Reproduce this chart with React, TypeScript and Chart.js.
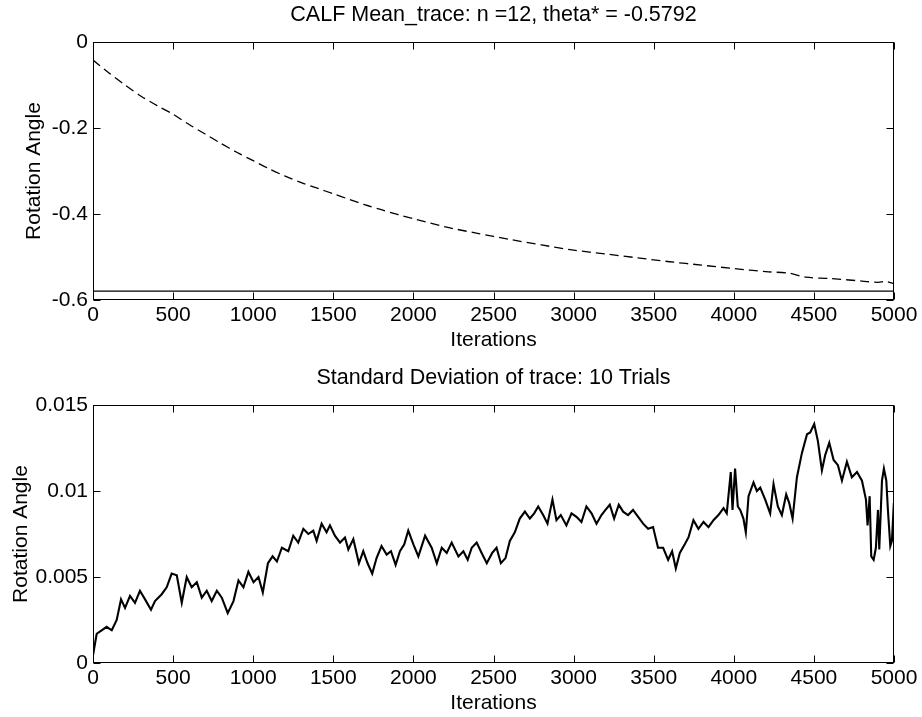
import React, { useEffect, useRef } from "react";
import { Chart, registerables } from "chart.js";

Chart.register(...registerables);

const FONT = "'Liberation Sans', Arial, Helvetica, sans-serif";

// ---------- Top panel: mean trace ----------
const meanTitle = "CALF Mean_trace: n =12, theta* = -0.5792";
const thetaStar = -0.5792;
const meanIter = [0, 100, 200, 300, 400, 500, 600, 700, 800, 900, 1000, 1100, 1200, 1300, 1400, 1500, 1600, 1700, 1800, 1900, 2000, 2200, 2400, 2600, 2800, 3000, 3200, 3400, 3600, 3800, 4000, 4200, 4350, 4450, 4600, 4800, 4900, 4950, 5000];
const meanValue = [-0.042, -0.072, -0.1, -0.126, -0.148, -0.168, -0.192, -0.214, -0.236, -0.257, -0.276, -0.295, -0.312, -0.327, -0.34, -0.353, -0.366, -0.379, -0.39, -0.401, -0.411, -0.43, -0.445, -0.459, -0.472, -0.484, -0.493, -0.502, -0.511, -0.519, -0.527, -0.534, -0.538, -0.547, -0.55, -0.556, -0.559, -0.557, -0.562];

// ---------- Bottom panel: standard deviation ----------
const sdTitle = "Standard Deviation of trace: 10 Trials";
const sdIter = [0, 23, 54, 85, 117, 148, 175, 200, 231, 262, 293, 325, 362, 387, 429, 460, 491, 523, 554, 585, 616, 648, 679, 710, 741, 773, 804, 841, 877, 908, 939, 970, 1002, 1033, 1060, 1092, 1121, 1148, 1179, 1219, 1250, 1281, 1313, 1344, 1375, 1396, 1427, 1458, 1479, 1510, 1542, 1573, 1594, 1625, 1660, 1687, 1714, 1743, 1770, 1801, 1833, 1860, 1889, 1916, 1943, 1968, 2000, 2031, 2073, 2114, 2146, 2177, 2208, 2239, 2281, 2312, 2339, 2364, 2395, 2426, 2458, 2492, 2519, 2546, 2575, 2602, 2633, 2664, 2696, 2727, 2754, 2779, 2810, 2837, 2868, 2893, 2920, 2955, 2987, 3018, 3049, 3080, 3112, 3143, 3174, 3199, 3226, 3253, 3282, 3309, 3340, 3371, 3403, 3434, 3465, 3496, 3527, 3559, 3590, 3615, 3638, 3663, 3694, 3717, 3748, 3779, 3811, 3842, 3873, 3904, 3936, 3956, 3981, 3992, 4008, 4025, 4040, 4060, 4075, 4092, 4123, 4144, 4165, 4196, 4227, 4248, 4275, 4300, 4327, 4346, 4367, 4394, 4425, 4457, 4477, 4502, 4525, 4550, 4571, 4596, 4623, 4650, 4675, 4706, 4737, 4769, 4800, 4825, 4835, 4848, 4858, 4873, 4887, 4900, 4908, 4925, 4937, 4952, 4962, 4977, 4987, 4999];
const sdValue = [0.00045, 0.0017, 0.0019, 0.0021, 0.0019, 0.0025, 0.0037, 0.0032, 0.0039, 0.0035, 0.0042, 0.0037, 0.0031, 0.0036, 0.004, 0.0044, 0.0052, 0.0051, 0.0035, 0.005, 0.0044, 0.0047, 0.0038, 0.0042, 0.0036, 0.0042, 0.0038, 0.0029, 0.0036, 0.0048, 0.0044, 0.0053, 0.0047, 0.005, 0.0041, 0.0058, 0.0062, 0.0059, 0.0067, 0.0065, 0.0074, 0.007, 0.0078, 0.0075, 0.0077, 0.0071, 0.0081, 0.0076, 0.008, 0.0074, 0.007, 0.0073, 0.0066, 0.0072, 0.0058, 0.0065, 0.0058, 0.0052, 0.0061, 0.0068, 0.0063, 0.0065, 0.0057, 0.0065, 0.0069, 0.0077, 0.0069, 0.0062, 0.0074, 0.0067, 0.0058, 0.0067, 0.0064, 0.007, 0.0062, 0.0065, 0.006, 0.0067, 0.007, 0.0064, 0.0058, 0.0064, 0.0067, 0.0058, 0.0061, 0.0071, 0.0076, 0.0084, 0.0088, 0.0084, 0.0087, 0.0091, 0.0086, 0.0081, 0.0095, 0.0083, 0.0086, 0.008, 0.0087, 0.0085, 0.0082, 0.0091, 0.0087, 0.0081, 0.0086, 0.0089, 0.0092, 0.0084, 0.0092, 0.0088, 0.0086, 0.0089, 0.0085, 0.0081, 0.0078, 0.0079, 0.0067, 0.0067, 0.006, 0.0065, 0.0055, 0.0064, 0.0069, 0.0073, 0.0083, 0.0078, 0.0082, 0.0079, 0.0083, 0.0086, 0.009, 0.0087, 0.0111, 0.0089, 0.0113, 0.0091, 0.0089, 0.0084, 0.0076, 0.0097, 0.0105, 0.01, 0.0102, 0.0095, 0.0087, 0.0104, 0.0091, 0.0086, 0.0098, 0.0093, 0.0084, 0.0108, 0.0122, 0.0133, 0.0134, 0.0139, 0.0129, 0.0112, 0.0121, 0.0128, 0.0118, 0.0115, 0.0106, 0.0117, 0.0108, 0.0111, 0.0106, 0.0095, 0.008, 0.0097, 0.0062, 0.006, 0.0067, 0.0089, 0.0066, 0.0106, 0.0113, 0.0106, 0.0089, 0.0068, 0.0071, 0.0093];

const xLabel = "Iterations";
const yLabel = "Rotation Angle";

const fmt = (v: number) => String(+Number(v).toFixed(4));

const framePlugin = {
  id: "matlabFrame",
  afterDraw(chart: any, _args: any, opts: any) {
    const { ctx, chartArea: a, scales } = chart;
    ctx.save();
    ctx.strokeStyle = "#000";
    ctx.lineWidth = 1;
    const L = Math.round(a.left) + 0.5;
    const R = Math.round(a.right) - 0.5;
    const T = Math.round(a.top) + 0.5;
    const B = Math.round(a.bottom) - 0.5;
    ctx.strokeRect(L, T, R - L, B - T);
    const tl = 7;
    ctx.beginPath();
    for (const t of scales.x.ticks) {
      const px = Math.round(scales.x.getPixelForValue(t.value)) + 0.5;
      ctx.moveTo(px, B);
      ctx.lineTo(px, B - tl);
      ctx.moveTo(px, T);
      ctx.lineTo(px, T + tl);
    }
    for (const t of scales.y.ticks) {
      const py = Math.round(scales.y.getPixelForValue(t.value)) + 0.5;
      ctx.moveTo(L, py);
      ctx.lineTo(L + tl, py);
      ctx.moveTo(R, py);
      ctx.lineTo(R - tl, py);
    }
    ctx.stroke();
    ctx.fillStyle = "#000";
    ctx.font = `21.5px ${FONT}`;
    ctx.textAlign = "center";
    ctx.textBaseline = "middle";
    ctx.fillText(opts.text, (a.left + a.right) / 2, opts.y);
    ctx.restore();
  },
};

function makeScales(yMin: number, yMax: number, yStep: number, xHeight: number, xTitlePadBottom: number, yTitlePadTop: number) {
  const tickFont = { family: FONT, size: 21 };
  return {
    x: {
      type: "linear",
      min: 0,
      max: 5000,
      ticks: { stepSize: 500, font: tickFont, color: "#000", padding: 3, maxRotation: 0, autoSkip: false, callback: (v: any) => fmt(v) },
      grid: { display: false, drawTicks: false },
      border: { display: false },
      title: { display: true, text: xLabel, color: "#000", font: tickFont, padding: { top: 0, bottom: xTitlePadBottom } },
      afterFit(s: any) {
        s.height = xHeight;
      },
    },
    y: {
      type: "linear",
      min: yMin,
      max: yMax,
      ticks: { stepSize: yStep, font: tickFont, color: "#000", padding: 5, callback: (v: any) => fmt(v) },
      grid: { display: false, drawTicks: false },
      border: { display: false },
      title: { display: true, text: yLabel, color: "#000", font: tickFont, padding: { top: yTitlePadTop, bottom: 0 } },
      afterFit(s: any) {
        s.width = 93;
      },
    },
  };
}

function TopChart() {
  const ref = useRef<HTMLCanvasElement>(null);
  useEffect(() => {
    const mean = meanIter.map((x, i) => ({ x, y: meanValue[i] }));
    const theta = [{ x: 0, y: thetaStar }, { x: 5000, y: thetaStar }];
    const chart = new Chart(ref.current as HTMLCanvasElement, {
      type: "line",
      data: {
        datasets: [
          { data: mean, borderColor: "#000", borderWidth: 1.3, borderDash: [9, 5], pointRadius: 0, tension: 0.3, fill: false },
          { data: theta, borderColor: "#000", borderWidth: 1.3, pointRadius: 0, fill: false },
        ],
      },
      options: {
        animation: false,
        responsive: false,
        layout: { padding: { top: 42, right: 28, left: 0, bottom: 0 } },
        plugins: { legend: { display: false }, tooltip: { enabled: false }, matlabFrame: { text: meanTitle, y: 15 } } as any,
        scales: makeScales(-0.6, 0, 0.2, 58, 5, 22) as any,
      },
      plugins: [framePlugin as any],
    });
    return () => chart.destroy();
  }, []);
  return <canvas ref={ref} width={922} height={358} style={{ display: "block", position: "absolute", left: 0, top: 0 }} />;
}

function BottomChart() {
  const ref = useRef<HTMLCanvasElement>(null);
  useEffect(() => {
    const sd = sdIter.map((x, i) => ({ x, y: sdValue[i] }));
    const chart = new Chart(ref.current as HTMLCanvasElement, {
      type: "line",
      data: {
        datasets: [{ data: sd, borderColor: "#000", borderWidth: 2.1, pointRadius: 0, tension: 0, fill: false }],
      },
      options: {
        animation: false,
        responsive: false,
        layout: { padding: { top: 47, right: 28, left: 0, bottom: 0 } },
        plugins: { legend: { display: false }, tooltip: { enabled: false }, matlabFrame: { text: sdTitle, y: 20 } } as any,
        scales: makeScales(0, 0.015, 0.005, 54, 1.4, 9) as any,
      },
      plugins: [framePlugin as any],
    });
    return () => chart.destroy();
  }, []);
  return <canvas ref={ref} width={922} height={359} style={{ display: "block", position: "absolute", left: 0, top: 358 }} />;
}

export default function App() {
  return (
    <div style={{ position: "absolute", left: 0, top: 0, width: 922, height: 717, background: "#fff" }}>
      <TopChart />
      <BottomChart />
    </div>
  );
}
